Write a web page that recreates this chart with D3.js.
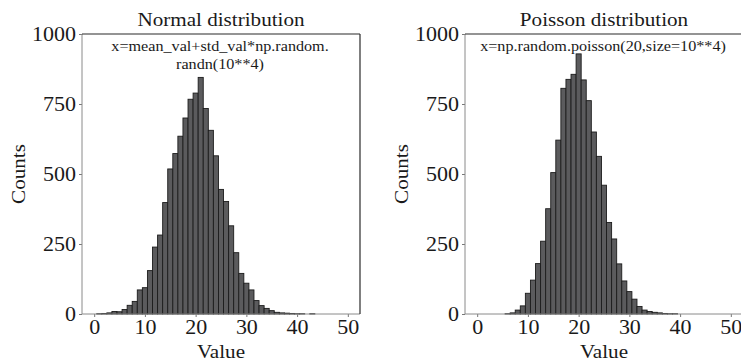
<!DOCTYPE html>
<html>
<head>
<meta charset="utf-8">
<script src="https://cdn.jsdelivr.net/npm/d3@7"></script>
<style>
  body { margin: 0; background: #fff; }
  svg { display: block; }
</style>
</head>
<body>
<svg id="chart" width="741" height="364"></svg>
<script>
// Histogram bins are centred on the integers 0..49 (unit width)
const binCenters = d3.range(0, 50);

// Counts per bin: normal sample (mean 20, sd ~5), 10^4 draws
const normalCounts = [
  0, 1, 2, 4, 9, 8, 16, 31, 45, 86,
  94, 155, 239, 282, 398, 518, 573, 635, 700, 767,
  789, 845, 734, 656, 565, 445, 402, 315, 219, 145,
  110, 86, 48, 30, 20, 12, 6, 4, 3, 2,
  1, 1, 0, 1, 0, 0, 0, 0, 0, 0
];

// Counts per bin: Poisson sample (lambda 20), 10^4 draws
const poissonCounts = [
  0, 0, 0, 0, 0, 0, 1, 4, 14, 29,
  74, 121, 180, 260, 376, 505, 621, 806, 838, 856,
  929, 836, 762, 650, 563, 460, 327, 268, 179, 118,
  80, 53, 27, 14, 9, 6, 4, 2, 1, 1,
  0, 0, 0, 0, 0, 0, 0, 0, 0, 0
];

const xTicks = [0, 10, 20, 30, 40, 50];
const yTicks = [0, 250, 500, 750, 1000];
const titles = ["Normal distribution", "Poisson distribution"];
const notes = [
  ["x=mean_val+std_val*np.random.", "randn(10**4)"],
  ["x=np.random.poisson(20,size=10**4)"]
];
const xLabel = "Value";
const yLabel = "Counts";

const FONT = '"Liberation Serif", "Times New Roman", serif';
const STRETCH = 1.1;   // the serif face is set slightly wide

const svg = d3.select("#chart");

const panels = [
  { left: 82,  right: 360, counts: normalCounts },
  { left: 465, right: 743, counts: poissonCounts }
];
const plotTop = 34, plotBottom = 314;

function label(g, x, y, str, size, rotate) {
  return g.append("text")
    .attr("transform", `translate(${x},${y})` + (rotate ? ` rotate(${rotate})` : "") + ` scale(${STRETCH},1)`)
    .attr("text-anchor", "middle")
    .attr("fill", "#1a1a1a")
    .style("font-family", FONT)
    .style("font-size", size + "px")
    .text(str);
}

panels.forEach((p, i) => {
  const x = d3.scaleLinear().domain([-2.4, 52.4]).range([p.left, p.right]);
  const y = d3.scaleLinear().domain([0, 1000]).range([plotBottom, plotTop]);
  const g = svg.append("g");
  const cx = (p.left + p.right) / 2;

  // bars
  g.append("g").selectAll("rect")
    .data(binCenters.map((c, j) => ({ c, v: p.counts[j] })))
    .join("rect")
    .attr("x", d => x(d.c - 0.5))
    .attr("width", d => x(d.c + 0.5) - x(d.c - 0.5))
    .attr("y", d => y(d.v))
    .attr("height", d => y(0) - y(d.v))
    .attr("fill", "#5b5b5d")
    .attr("stroke", "#1c1c1c")
    .attr("stroke-width", 0.9);

  // axes
  const xa = g.append("g").attr("transform", `translate(0,${plotBottom})`)
    .call(d3.axisBottom(x).tickValues(xTicks).tickFormat(d3.format("d")).tickSize(3).tickPadding(3));
  const ya = g.append("g").attr("transform", `translate(${p.left},0)`)
    .call(d3.axisLeft(y).tickValues(yTicks).tickFormat(d3.format("d")).tickSize(3).tickPadding(3));
  [xa, ya].forEach(a => {
    a.attr("font-family", null).attr("font-size", null);
    a.select(".domain").remove();
    a.selectAll(".tick line").attr("stroke", "#777");
    a.selectAll(".tick text")
      .style("font-family", FONT)
      .style("font-size", "20px")
      .attr("fill", "#1a1a1a")
      .attr("transform", `scale(${STRETCH},1)`);
  });
  ya.selectAll(".tick text").attr("x", -6 / STRETCH);

  // frame: light left/bottom, dark top/right
  g.append("line").attr("x1", p.left).attr("x2", p.left).attr("y1", plotTop).attr("y2", plotBottom)
    .attr("stroke", "#8a8a8a").attr("stroke-width", 1);
  g.append("line").attr("x1", p.left).attr("x2", p.right).attr("y1", plotBottom).attr("y2", plotBottom)
    .attr("stroke", "#8a8a8a").attr("stroke-width", 1);
  g.append("line").attr("x1", p.left).attr("x2", p.right).attr("y1", plotTop).attr("y2", plotTop)
    .attr("stroke", "#2a2a2a").attr("stroke-width", 1.2);
  g.append("line").attr("x1", p.right).attr("x2", p.right).attr("y1", plotTop).attr("y2", plotBottom)
    .attr("stroke", "#2a2a2a").attr("stroke-width", 1.2);

  // titles and labels
  label(g, cx, 26, titles[i], 19.2);
  notes[i].forEach((t, k) => label(g, cx - 1, 51 + k * 17.5, t, 14.7));
  label(g, cx, 358, xLabel, 19.2);
  label(g, p.left - 57, (plotTop + plotBottom) / 2, yLabel, 19.2, -90);
});
</script>
</body>
</html>
